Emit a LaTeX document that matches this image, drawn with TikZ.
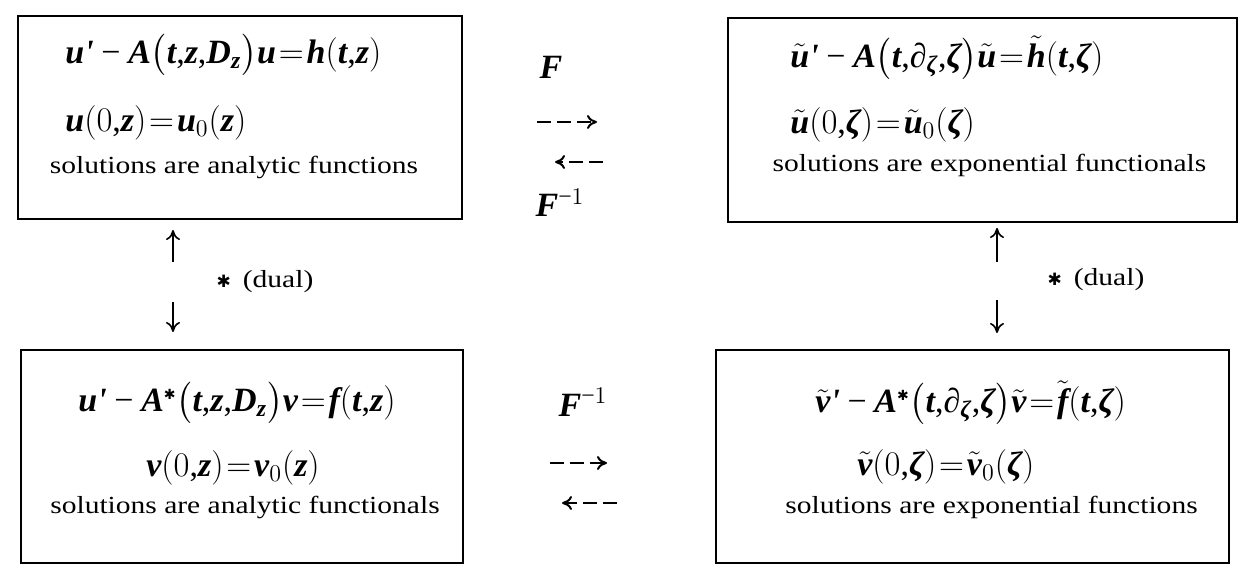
\documentclass[tikz,border=0pt]{standalone}
\usepackage{fontspec}
\setmainfont{Liberation Serif}[FakeStretch=1.2]
\newfontfamily\lsmathfam{Liberation Serif}[NFSSFamily=lsmath]
\newfontfamily\starfont{DejaVu Sans}
\DeclareSymbolFont{lsi}{TU}{lsmath}{b}{it}
\DeclareSymbolFont{lsu}{TU}{lsmath}{m}{n}
\Umathcode`u=0 \symlsi `u
\Umathcode`A=0 \symlsi `A
\Umathcode`t=0 \symlsi `t
\Umathcode`z=0 \symlsi `z
\Umathcode`D=0 \symlsi `D
\Umathcode`h=0 \symlsi `h
\Umathcode`v=0 \symlsi `v
\Umathcode`f=0 \symlsi `f
\Umathcode`F=0 \symlsi `F
\Umathcode`0=0 \symlsu `0
\Umathcode`1=0 \symlsu `1
\Umathcode`(=4 \symlsu `(
\Umathcode`)=5 \symlsu `)
\Umathcode`,=0 \symlsu `,
\Umathcode`==3 \symlsu `=
\Umathcode`-=2 \symlsu "2212
\Umathchardef\zeta=0 \symlsi "03B6
\Umathchardef\partial=0 \symlsi "2202
\Umathchardef\lap=0 \symlsi "27
\newcommand\eqs{\mskip1.5mu{=}\mskip1.5mu}
\newcommand\astr{^{\text{\starfont\fontsize{7}{7}\selectfont ✱}}}
\usetikzlibrary{arrows.meta}
\usepackage{amsmath}
\begin{document}
\begin{tikzpicture}[x=0.5pt,y=-0.5pt,
  box/.style={draw, line width=1.1pt, rectangle, inner sep=0pt},
  eq/.style={font=\fontsize{17}{19}\selectfont, inner sep=0pt, anchor=west},
  lab/.style={font=\fontsize{17}{19}\selectfont, inner sep=0pt},
  txt/.style={font=\fontsize{12.3}{14}\selectfont, inner sep=0pt},
  lbl/.style={font=\fontsize{12.3}{14}\selectfont, inner sep=0pt},
  darr/.style={-{To[length=5pt,width=7pt]}, line width=1pt, dash pattern=on 7pt off 3pt},
  varr/.style={-{To[length=5pt,width=7pt]}, line width=0.8pt}]
\useasboundingbox (0,0) rectangle (1238,566);
% boxes
\node[box, minimum width=222pt, minimum height=101.5pt] (tl) at (240,117.5) {};
\node[box, minimum width=254.5pt, minimum height=102pt] (tr) at (982.5,120) {};
\node[box, minimum width=221pt, minimum height=106.5pt] (bl) at (242,456.5) {};
\node[box, minimum width=256.5pt, minimum height=106.5pt] (br) at (972.5,456.5) {};
% top-left
\node[eq] (tl1) at (65,55) {$u\lap-A\bigl(t,z,D_z\bigr)u\eqs h(t,z)$};
\node[eq] (tl2) at (65,123) {$u(0,z)\eqs u_0(z)$};
\node[txt] (tl3) at (234,167) {solutions are analytic functions};
% top-right
\node[eq] (tr1) at (790,58) {$\tilde u\lap-A\bigl(t,\partial_\zeta,\zeta\bigr)\tilde u\eqs\tilde h(t,\zeta)$};
\node[eq] (tr2) at (790,125) {$\tilde u(0,\zeta)\eqs\tilde u_0(\zeta)$};
\node[txt] (tr3) at (989.5,165) {solutions are exponential functionals};
% bottom-left
\node[eq] (bl1) at (78,403) {$u\lap-A\astr\bigl(t,z,D_z\bigr)v\eqs f(t,z)$};
\node[eq] (bl2) at (146,468) {$v(0,z)\eqs v_0(z)$};
\node[txt] (bl3) at (245,507) {solutions are analytic functionals};
% bottom-right
\node[eq] (br1) at (815,403) {$\tilde v\lap-A\astr\bigl(t,\partial_\zeta,\zeta\bigr)\tilde v\eqs\tilde f(t,\zeta)$};
\node[eq] (br2) at (857,467) {$\tilde v(0,\zeta)\eqs\tilde v_0(\zeta)$};
\node[txt] (br3) at (991.5,507) {solutions are exponential functions};
% transform labels
\node[lab] (F) at (551,67) {$F$};
\node[lab] (Fi) at (560,203) {$F^{-1}$};
\node[lab] (Fib) at (583,402) {$F^{-1}$};
% dashed arrows
\coordinate (fa0) at (537,122); \coordinate (fa1) at (597,122);
\coordinate (ba0) at (603,162); \coordinate (ba1) at (555,162);
\coordinate (fb0) at (550,463); \coordinate (fb1) at (607,463);
\coordinate (bb0) at (617,503); \coordinate (bb1) at (562,503);
\draw[darr] (fa0) -- (fa1);
\draw[darr] (ba0) -- (ba1);
\draw[darr] (fb0) -- (fb1);
\draw[darr] (bb0) -- (bb1);
% dual arrows
\coordinate (lu0) at (173,262); \coordinate (lu1) at (173,230);
\coordinate (ld0) at (173,302); \coordinate (ld1) at (173,332);
\coordinate (ru0) at (997,262); \coordinate (ru1) at (997,228);
\coordinate (rd0) at (997,300); \coordinate (rd1) at (997,333);
\draw[varr] (lu0) -- (lu1);
\draw[varr] (ld0) -- (ld1);
\draw[varr] (ru0) -- (ru1);
\draw[varr] (rd0) -- (rd1);
\node[lbl] (dl) at (265,282) {{\starfont\fontsize{8.5}{9}\selectfont\raisebox{0.4pt}{✱}}\hspace{6pt}(dual)};
\node[lbl] (dr) at (1096,280) {{\starfont\fontsize{8.5}{9}\selectfont\raisebox{0.4pt}{✱}}\hspace{6pt}(dual)};
\end{tikzpicture}
\end{document}
